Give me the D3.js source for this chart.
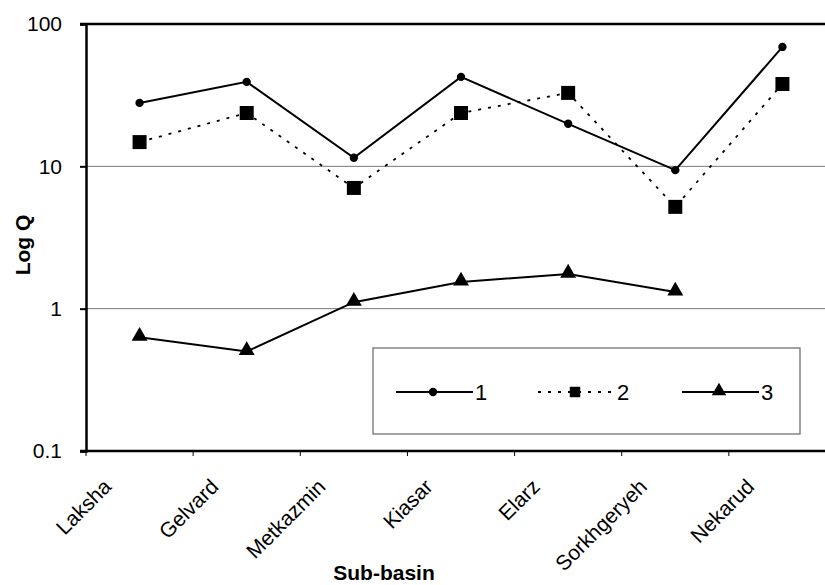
<!DOCTYPE html>
<html>
<head>
<meta charset="utf-8">
<script src="https://cdn.jsdelivr.net/npm/d3@7"></script>
<style>
  body { margin: 0; background: #fff; }
  svg { display: block; }
  text { font-family: "Liberation Sans", Arial, sans-serif; }
</style>
</head>
<body>
<svg id="chart" width="825" height="585"></svg>
<script>
const basins = ['Laksha', 'Gelvard', 'Metkazmin', 'Kiasar', 'Elarz', 'Sorkhgeryeh', 'Nekarud'];
const q1 = [27.9, 39.2, 11.5, 42.5, 19.9, 9.4, 69];
const q2 = [14.8, 23.7, 7.05, 23.7, 32.8, 5.19, 37.9];
const q3 = [0.63, 0.5, 1.11, 1.54, 1.75, 1.31, null];
const yTicks = [0.1, 1, 10, 100];
const legendLabels = ['1', '2', '3'];

const svg = d3.select('#chart');
const plotLeft = 86, plotRight = 836, plotTop = 24, plotBottom = 451;
const fontFam = '"Liberation Sans", Arial, sans-serif';

const x = d3.scaleBand().domain(basins).range([plotLeft, plotRight]);
const y = d3.scaleLog().domain([0.1, 100]).range([plotBottom, plotTop]);
const cx = d => x(d) + x.bandwidth() / 2;

// grid lines
svg.append('g')
  .selectAll('line')
  .data([1, 10])
  .enter().append('line')
  .attr('x1', plotLeft).attr('x2', 825)
  .attr('y1', d => y(d)).attr('y2', d => y(d))
  .attr('stroke', '#777').attr('stroke-width', 1);

// top border
svg.append('line')
  .attr('x1', plotLeft - 6).attr('x2', 825)
  .attr('y1', y(100)).attr('y2', y(100))
  .attr('stroke', '#000').attr('stroke-width', 2.5);

// y axis
const yAxis = d3.axisLeft(y)
  .tickValues(yTicks)
  .tickFormat(d => String(d))
  .tickSize(6)
  .tickPadding(18);
const gy = svg.append('g').attr('transform', `translate(${plotLeft},0)`).call(yAxis)
  .attr('font-family', fontFam).attr('font-size', 21);
gy.select('.domain').attr('stroke-width', 2.5);
gy.selectAll('.tick line').attr('stroke-width', 2);
gy.selectAll('.tick text').attr('fill', '#000');

// x axis
const xAxis = d3.axisBottom(x).tickSize(0).tickFormat('');
const gx = svg.append('g').attr('transform', `translate(0,${plotBottom})`).call(xAxis);
gx.select('.domain').attr('stroke-width', 2.5).attr('d', `M${plotLeft - 6},0H825`);

// category boundary ticks
svg.append('g')
  .selectAll('line')
  .data(basins)
  .enter().append('line')
  .attr('x1', d => x(d)).attr('x2', d => x(d))
  .attr('y1', plotBottom).attr('y2', plotBottom + 5)
  .attr('stroke', '#000').attr('stroke-width', 1);

// rotated category labels
svg.append('g')
  .selectAll('text')
  .data(basins)
  .enter().append('text')
  .attr('transform', d => `translate(${cx(d) - 27},${plotBottom + 37}) rotate(-45)`)
  .attr('text-anchor', 'end')
  .attr('font-size', 21)
  .text(d => d);

// axis titles
svg.append('text')
  .attr('x', 384).attr('y', 580)
  .attr('text-anchor', 'middle')
  .attr('font-size', 21).attr('font-weight', 'bold')
  .text('Sub-basin');

svg.append('text')
  .attr('transform', 'translate(30,245) rotate(-90)')
  .attr('text-anchor', 'middle')
  .attr('font-size', 21).attr('font-weight', 'bold')
  .text('Log Q');

// series
const line = d3.line()
  .defined(d => d.v != null)
  .x(d => cx(d.b))
  .y(d => y(d.v));

const pts = arr => basins.map((b, i) => ({ b, v: arr[i] }));

svg.append('path').datum(pts(q1))
  .attr('d', line).attr('fill', 'none')
  .attr('stroke', '#000').attr('stroke-width', 2);

svg.append('path').datum(pts(q2))
  .attr('d', line).attr('fill', 'none')
  .attr('stroke', '#000').attr('stroke-width', 1.8)
  .attr('stroke-dasharray', '3,7');

svg.append('path').datum(pts(q3))
  .attr('d', line).attr('fill', 'none')
  .attr('stroke', '#000').attr('stroke-width', 2);

const circle = d3.symbol().type(d3.symbolCircle).size(55);
const square = d3.symbol().type(d3.symbolSquare).size(196);
const triangle = d3.symbol().type(d3.symbolTriangle).size(110);

svg.append('g').selectAll('path')
  .data(pts(q1)).enter().append('path')
  .attr('transform', d => `translate(${cx(d.b)},${y(d.v)})`)
  .attr('d', circle).attr('fill', '#000');

svg.append('g').selectAll('path')
  .data(pts(q2)).enter().append('path')
  .attr('transform', d => `translate(${cx(d.b)},${y(d.v)})`)
  .attr('d', square).attr('fill', '#000');

svg.append('g').selectAll('path')
  .data(pts(q3).filter(d => d.v != null)).enter().append('path')
  .attr('transform', d => `translate(${cx(d.b)},${y(d.v) - 1})`)
  .attr('d', triangle).attr('fill', '#000');

// legend
const lg = svg.append('g');
lg.append('rect')
  .attr('x', 373).attr('y', 348).attr('width', 427).attr('height', 86)
  .attr('fill', '#fff').attr('stroke', '#666').attr('stroke-width', 1.2);

const legendX = [396, 538, 682];
const legendSym = [circle, d3.symbol().type(d3.symbolSquare).size(110), d3.symbol().type(d3.symbolTriangle).size(90)];
const ly = 392;
legendLabels.forEach((lab, i) => {
  const x0 = legendX[i];
  lg.append('line')
    .attr('x1', x0).attr('x2', x0 + 77)
    .attr('y1', ly).attr('y2', ly)
    .attr('stroke', '#000').attr('stroke-width', i === 1 ? 1.8 : 2)
    .attr('stroke-dasharray', i === 1 ? '3,7' : null);
  lg.append('path')
    .attr('transform', `translate(${x0 + 37},${ly - (i === 2 ? 1 : 0)})`)
    .attr('d', legendSym[i]).attr('fill', '#000');
  lg.append('text')
    .attr('x', x0 + 79).attr('y', ly + 8)
    .attr('font-size', 22)
    .text(lab);
});
</script>
</body>
</html>
